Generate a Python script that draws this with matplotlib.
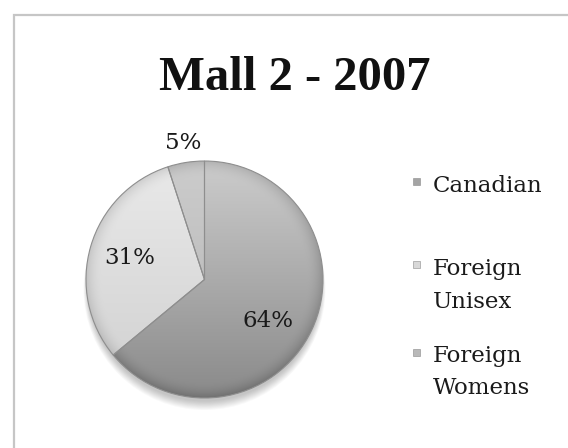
import numpy as np
import matplotlib
matplotlib.use("Agg")
import matplotlib.pyplot as plt
from matplotlib.patches import Rectangle, Circle

# ---- data ----
title = "Mall 2 - 2007"
categories = ["Canadian", "Foreign Unisex", "Foreign Womens"]
legend_lines = [["Canadian"], ["Foreign", "Unisex"], ["Foreign", "Womens"]]
values = [64, 31, 5]

# ---- style ----
base_gray = [0.67, 0.865, 0.75]
grad_k = [0.13, 0.05, 0.05]
marker_colors = ["#a4a4a4", "#d8d8d8", "#b9b9b9"]
FONT = "Liberation Serif"
BODY = "DejaVu Serif"

W, H = 568, 448
fig = plt.figure(figsize=(W / 100, H / 100), dpi=100)
fig.patch.set_facecolor("white")


def fx(x):
    return x / W


def fy(y):
    return 1 - y / H


# outer frame (extends past right/bottom edges)
fig.add_artist(Rectangle((fx(13.5), -0.1), 1.2, fy(15.5) + 0.1,
                         transform=fig.transFigure, fill=False,
                         edgecolor="#c6c6c6", lw=1.6))

# pie axes
cx, cy, R = 204.5, 279.5, 118.5
ax = fig.add_axes([fx(cx - R), fy(cy + R), 2 * R / W, 2 * R / H])
ax.axis("off")

# soft shadow (mostly below)
for i in range(10):
    ax.add_patch(Circle((0.0, -0.045 - 0.004 * i), 0.985 + 0.004 * i,
                        facecolor="black", alpha=0.025, lw=0, zorder=0,
                        clip_on=False))

wedges, texts, autotexts = ax.pie(
    values, startangle=90, counterclock=False, radius=1,
    autopct=lambda p: f"{p:.0f}%", pctdistance=0.66,
    wedgeprops=dict(edgecolor="#8e8e8e", linewidth=0.8, facecolor="none"),
    textprops=dict(family=BODY, fontsize=16.5, color="#1a1a1a"))

N = 400
Y, X = np.mgrid[-1:1:N * 1j, -1:1:N * 1j]
RR = np.sqrt(X ** 2 + Y ** 2)
for w, b, k in zip(wedges, base_gray, grad_k):
    g = b + k * Y - 0.10 * np.clip((RR - 0.86) / 0.14, 0, 1) ** 2
    g = np.clip(g, 0, 1)
    img = np.dstack([g, g, g])
    im = ax.imshow(img, extent=[-1, 1, -1, 1], origin="lower", zorder=1,
                   interpolation="bilinear")
    im.set_clip_path(w)
    w.set_zorder(2)

ax.set_xlim(-1, 1)
ax.set_ylim(-1, 1)
ax.set_aspect("equal")

# move the small slice label outside
w = wedges[2]
mid = np.deg2rad((w.theta1 + w.theta2) / 2)
autotexts[2].set_position((1.17 * np.cos(mid), 1.17 * np.sin(mid)))
# fine-tune 64% label
w = wedges[0]
mid = np.deg2rad((w.theta1 + w.theta2) / 2)
autotexts[0].set_position((0.66 * np.cos(mid) - 0.06, 0.66 * np.sin(mid) - 0.07))
for t in autotexts:
    t.set_zorder(5)

# title
fig.text(fx(295), fy(90), title, ha="center", va="baseline", fontsize=35,
         fontweight="bold", family=FONT, color="#111111")

# legend
baselines = [[192], [275, 308], [362, 394]]
for lines, bl, mc in zip(legend_lines, baselines, marker_colors):
    my = bl[0] - 10
    fig.add_artist(Rectangle((fx(413), fy(my + 3.5)), 7 / W, 7 / H,
                             transform=fig.transFigure, facecolor=mc,
                             edgecolor="#8a8a8a", lw=0.4))
    for line, y in zip(lines, bl):
        fig.text(fx(433), fy(y), line, ha="left", va="baseline", fontsize=16.5,
                 family=BODY, color="#1a1a1a")

fig.savefig("out.png", dpi=100)
